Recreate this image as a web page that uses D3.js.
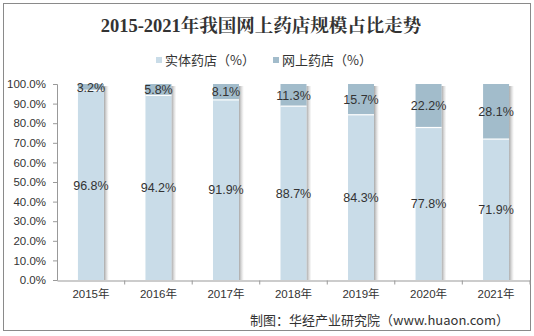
<!DOCTYPE html>
<html><head><meta charset="utf-8">
<script src="https://cdn.jsdelivr.net/npm/d3@7"></script>
<style>body{margin:0;background:#fff}svg{display:block}</style>
</head><body>
<script>
const years = ["2015年","2016年","2017年","2018年","2019年","2020年","2021年"];
const physical = [96.8,94.2,91.9,88.7,84.3,77.8,71.9];
const online = [3.2,5.8,8.1,11.3,15.7,22.2,28.1];
const seriesNames = ["实体药店（%）","网上药店（%）"];
const colors = ["#c9dce8","#a2bccb"];
const yTicks = [0,10,20,30,40,50,60,70,80,90,100];

const W=534,H=336;
const svg=d3.select("body").append("svg").attr("width",W).attr("height",H);
const defs=svg.append("defs");
const g1=defs.append("linearGradient").attr("id","shadow").attr("x1",0).attr("x2",1).attr("y1",0).attr("y2",0);
g1.append("stop").attr("offset","0%").attr("stop-color","#888").attr("stop-opacity",0.75);
g1.append("stop").attr("offset","100%").attr("stop-color","#bbb").attr("stop-opacity",0);

svg.append("rect").attr("x",3.5).attr("y",3.5).attr("width",527).attr("height",327).attr("fill","#fff").attr("stroke","#8a8a8a").attr("stroke-width",1);

const x=d3.scaleBand().domain(years).range([57,530]).paddingInner(0.615).paddingOuter(0.31);
const y=d3.scaleLinear().domain([0,100]).range([280,84]);

// title
svg.append("text").attr("x",261).attr("y",32).attr("text-anchor","middle")
 .attr("font-family","'Liberation Serif','Noto Serif CJK SC','Noto Sans CJK SC',serif").attr("font-weight","bold")
 .attr("font-size",18.5).attr("fill","#333").text("2015-2021年我国网上药店规模占比走势");

// legend
const leg=[{x:156,t:seriesNames[0],c:colors[0]},{x:273,t:seriesNames[1],c:colors[1]}];
leg.forEach(l=>{
  svg.append("rect").attr("x",l.x).attr("y",57).attr("width",6).attr("height",6).attr("fill",l.c);
  svg.append("text").attr("x",l.x+9).attr("y",65).attr("font-family","'Noto Sans CJK SC',sans-serif")
   .attr("font-size",13).attr("fill","#333").text(l.t);
});

// axes
const yAxis=svg.append("g").attr("transform","translate(57,0)")
 .call(d3.axisLeft(y).tickValues(yTicks).tickSize(4).tickFormat(d=>d.toFixed(1)+"%"));
yAxis.select(".domain").attr("stroke","#999");
yAxis.selectAll(".tick line").attr("stroke","#999");
yAxis.selectAll("text").attr("font-family","'Liberation Sans',Arial,sans-serif").attr("font-size",11.5).attr("fill","#333").attr("dx",-4);

const xAxis=svg.append("g").attr("transform","translate(0,280.5)")
 .call(d3.axisBottom(x).tickSize(0).tickPadding(9));
xAxis.select(".domain").attr("stroke","#999");
xAxis.selectAll("text").attr("font-family","'Liberation Sans','Noto Sans CJK SC',sans-serif").attr("font-size",11.5).attr("fill","#333");
// boundary ticks
const step=x.step();
const bounds=years.slice(1).map(d=>x(d)-(step-x.bandwidth())/2).concat([530]);
svg.append("g").selectAll("line").data(bounds).join("line")
 .attr("x1",d=>d).attr("x2",d=>d).attr("y1",280.5).attr("y2",284.5).attr("stroke","#999");

// bars
const data=years.map((yr,i)=>({yr,p:physical[i],o:online[i]}));
const bars=svg.append("g");
bars.selectAll(".sh").data(data).join("rect").attr("class","sh")
 .attr("x",d=>x(d.yr)+x.bandwidth()).attr("width",5)
 .attr("y",d=>y(d.p+d.o)+2).attr("height",d=>y(0)-y(d.p+d.o)-2).attr("fill","url(#shadow)");
bars.selectAll(".p").data(data).join("rect").attr("class","p")
 .attr("x",d=>x(d.yr)).attr("width",x.bandwidth())
 .attr("y",d=>y(d.p)).attr("height",d=>y(0)-y(d.p)).attr("fill",colors[0]);
bars.selectAll(".o").data(data).join("rect").attr("class","o")
 .attr("x",d=>x(d.yr)).attr("width",x.bandwidth())
 .attr("y",d=>y(d.p+d.o)).attr("height",d=>y(d.p)-y(d.p+d.o)).attr("fill",colors[1]);
bars.selectAll(".sep").data(data).join("line").attr("class","sep")
 .attr("x1",d=>x(d.yr)).attr("x2",d=>x(d.yr)+x.bandwidth())
 .attr("y1",d=>y(d.p)).attr("y2",d=>y(d.p)).attr("stroke","#fff").attr("stroke-width",1.2);

const lab=svg.append("g").attr("font-family","'Liberation Sans',Arial,sans-serif").attr("font-size",12.5).attr("fill","#333").attr("text-anchor","middle");
lab.selectAll(".lp").data(data).join("text").attr("x",d=>x(d.yr)+x.bandwidth()/2).attr("y",d=>(y(0)+y(d.p))/2+4.5).text(d=>d.p.toFixed(1)+"%");
lab.selectAll(".lo").data(data).join("text").attr("x",d=>x(d.yr)+x.bandwidth()/2).attr("y",d=>(y(d.p)+y(d.p+d.o))/2+4.5).text(d=>d.o.toFixed(1)+"%");

// source
svg.append("text").attr("x",509).attr("y",325).attr("text-anchor","end").attr("font-family","'Noto Sans CJK SC',sans-serif")
 .attr("font-size",13).attr("fill","#333").text("制图：华经产业研究院（www.huaon.com）");
</script>
</body></html>
